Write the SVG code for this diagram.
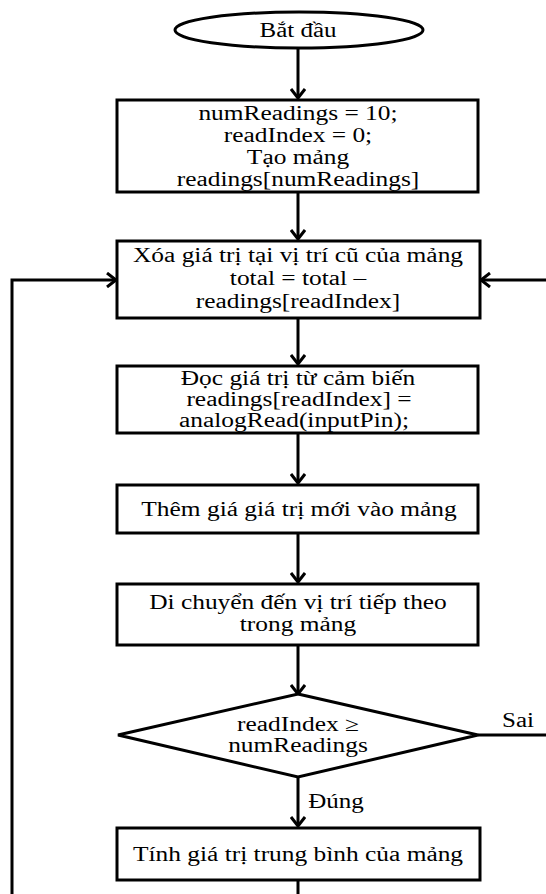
<svg xmlns="http://www.w3.org/2000/svg" width="546" height="894" viewBox="0 0 546 894">
<style>
.n{fill:#fff;stroke:#000;stroke-width:3}
.c{fill:none;stroke:#000;stroke-width:3}
</style>
<defs>
<marker id="a" viewBox="0 0 16 16" refX="13" refY="8" markerWidth="16" markerHeight="16" markerUnits="userSpaceOnUse" orient="auto">
<path d="M4,1 L13,8 L4,15" fill="none" stroke="#000" stroke-width="3"/>
</marker>
</defs>
<rect width="546" height="894" fill="#fff"/>
<g font-family="Liberation Serif, Times New Roman, Times, serif" font-size="20" fill="#000" text-anchor="middle">
<g id="connectors">
<line class="c" x1="298" y1="49" x2="298" y2="98" marker-end="url(#a)"/>
<line class="c" x1="298" y1="192" x2="298" y2="239" marker-end="url(#a)"/>
<line class="c" x1="298" y1="318" x2="298" y2="364" marker-end="url(#a)"/>
<line class="c" x1="298" y1="433" x2="298" y2="483" marker-end="url(#a)"/>
<line class="c" x1="298" y1="533" x2="298" y2="582" marker-end="url(#a)"/>
<line class="c" x1="298" y1="645" x2="298" y2="694" marker-end="url(#a)"/>
<line class="c" x1="298" y1="777" x2="298" y2="826" marker-end="url(#a)"/>
<line class="c" x1="298" y1="880" x2="298" y2="894"/>
<polyline class="c" points="12,894 12,280 116,280" marker-end="url(#a)"/>
<line class="c" x1="546" y1="280" x2="481" y2="280" marker-end="url(#a)"/>
<line class="c" x1="478" y1="735" x2="546" y2="735"/>
<text transform="translate(518,727) scale(1.25,1)">Sai</text>
<text transform="translate(336,808) scale(1.25,1)">Đúng</text>
</g>
<g id="start">
<ellipse class="n" cx="299" cy="30" rx="124" ry="18"/>
<text transform="translate(298,37) scale(1.25,1)">Bắt đầu</text>
</g>
<g id="init">
<rect class="n" x="117" y="100" width="361" height="92"/>
<text transform="translate(298,120) scale(1.27,1)">numReadings = 10;</text>
<text transform="translate(298,142) scale(1.27,1)">readIndex = 0;</text>
<text transform="translate(298,164) scale(1.27,1)">Tạo mảng</text>
<text transform="translate(298,186) scale(1.27,1)">readings[numReadings]</text>
</g>
<g id="clear">
<rect class="n" x="117" y="241" width="363" height="77"/>
<text transform="translate(298,262) scale(1.27,1)">Xóa giá trị tại vị trí cũ của mảng</text>
<text transform="translate(298,285) scale(1.27,1)">total = total –</text>
<text transform="translate(298,308) scale(1.27,1)">readings[readIndex]</text>
</g>
<g id="read">
<rect class="n" x="117" y="366" width="361" height="67"/>
<text transform="translate(298,385) scale(1.27,1)">Đọc giá trị từ cảm biến</text>
<text transform="translate(299,406) scale(1.27,1)">readings[readIndex] =</text>
<text transform="translate(294,427) scale(1.27,1)">analogRead(inputPin);</text>
</g>
<g id="add">
<rect class="n" x="117" y="485" width="361" height="48"/>
<text transform="translate(299,516) scale(1.27,1)">Thêm giá giá trị mới vào mảng</text>
</g>
<g id="move">
<rect class="n" x="117" y="584" width="361" height="61"/>
<text transform="translate(298,609) scale(1.27,1)">Di chuyển đến vị trí tiếp theo</text>
<text transform="translate(298,631) scale(1.27,1)">trong mảng</text>
</g>
<g id="decision">
<polygon class="n" points="298,694 478,735 298,777 118,735"/>
<text transform="translate(298,731) scale(1.27,1)">readIndex ≥</text>
<text transform="translate(298,752) scale(1.27,1)">numReadings</text>
</g>
<g id="avg">
<rect class="n" x="117" y="828" width="363" height="52"/>
<text transform="translate(298,861) scale(1.27,1)">Tính giá trị trung bình của mảng</text>
</g>
</g>
</svg>
